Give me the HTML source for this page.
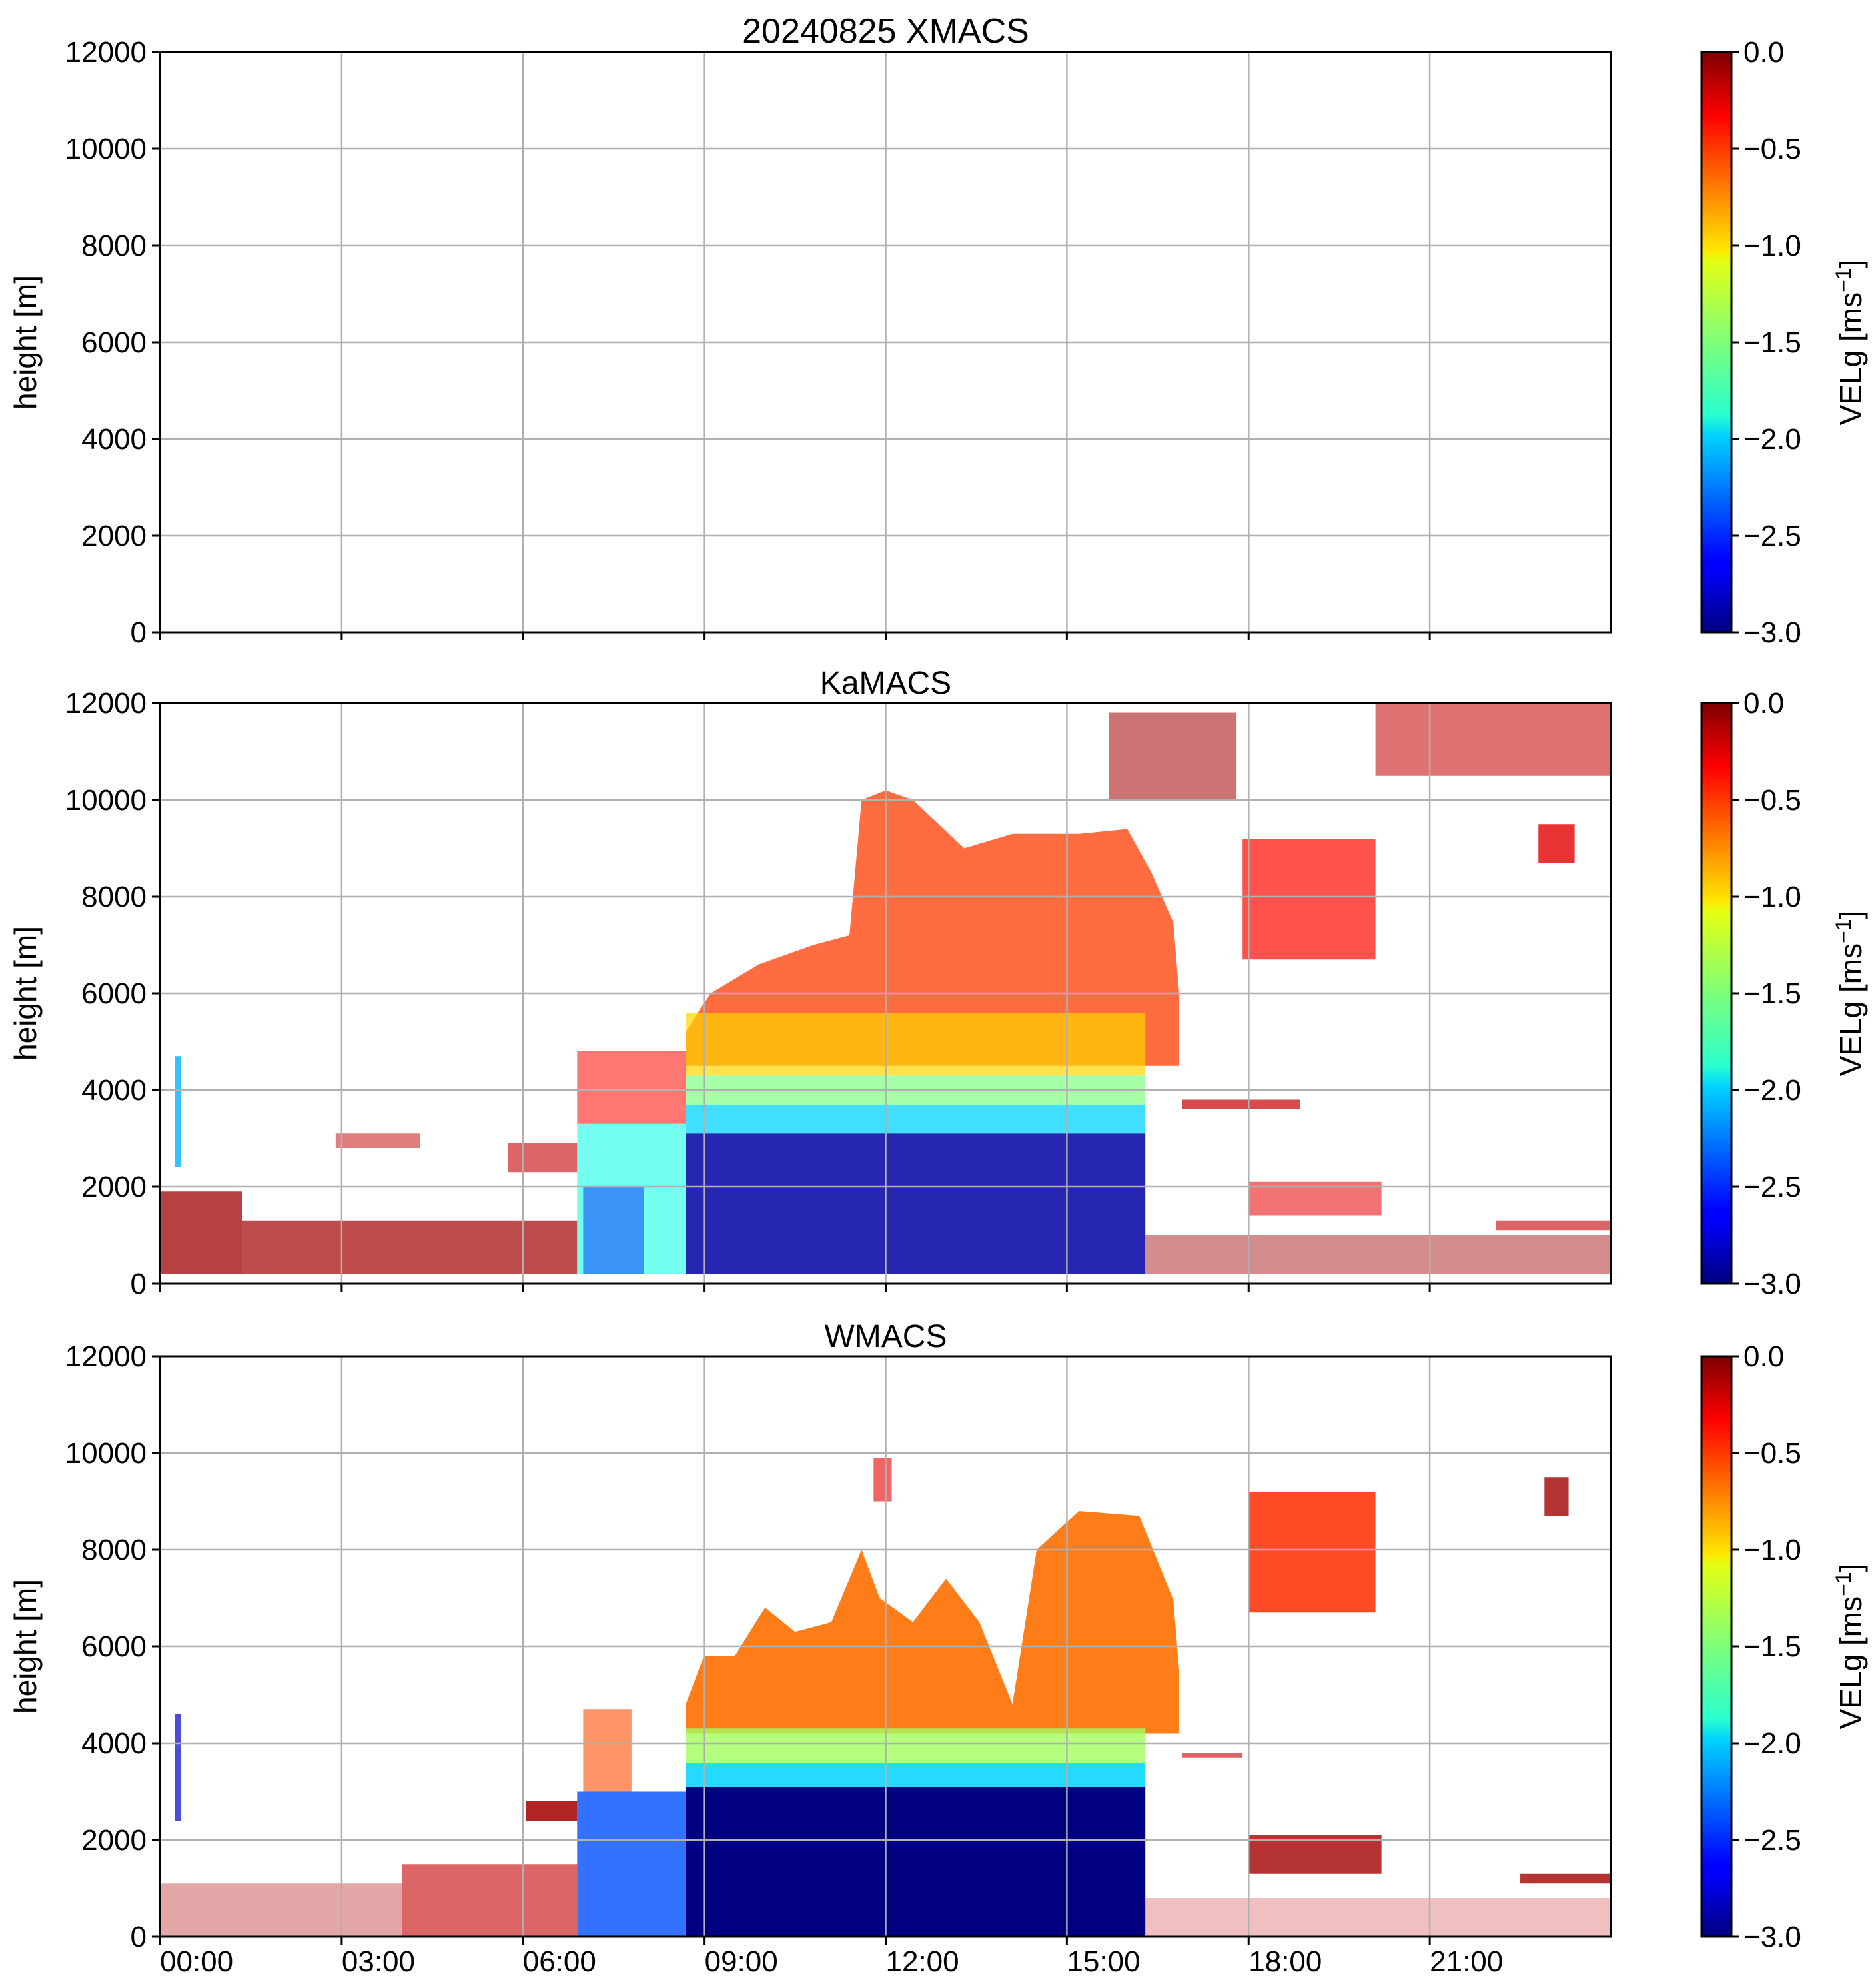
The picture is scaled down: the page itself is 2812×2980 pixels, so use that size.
<!DOCTYPE html>
<html><head><meta charset="utf-8"><style>
html,body{margin:0;padding:0;background:#fff}
svg{display:block;font-family:"Liberation Sans","DejaVu Sans",sans-serif}
</style></head><body>
<svg id="fig" width="2812" height="2980" viewBox="0 0 2812 2980" xmlns="http://www.w3.org/2000/svg">
<defs>
<linearGradient id="jetgrad" x1="0" y1="1" x2="0" y2="0">
<stop offset="0" stop-color="#00007f"/><stop offset="0.11" stop-color="#0000ff"/><stop offset="0.125" stop-color="#0000ff"/>
<stop offset="0.34" stop-color="#00d4ff"/><stop offset="0.375" stop-color="#29ffce"/><stop offset="0.5" stop-color="#7dff7a"/>
<stop offset="0.64" stop-color="#e4ff13"/><stop offset="0.66" stop-color="#ffe600"/><stop offset="0.89" stop-color="#ff0000"/><stop offset="1" stop-color="#7f0000"/>
</linearGradient>
</defs>
<g id="layer"></g>
</svg>
<script>
// ---- data (hours, metres, velocity m/s) ----
const timeTicks = [0,3,6,9,12,15,18,21];
const timeTickLabels = ["00:00","03:00","06:00","09:00","12:00","15:00","18:00","21:00"];
const heightTicks = [0,2000,4000,6000,8000,10000,12000];
const cbTicks = [0,-0.5,-1,-1.5,-2,-2.5,-3];
const cbTickLabels = ["0.0","\u22120.5","\u22121.0","\u22121.5","\u22122.0","\u22122.5","\u22123.0"];
const panelTitles = ["20240825 XMACS","KaMACS","WMACS"];

// KaMACS segments: t0,t1,h0,h1,vel,density
const kaT0 = [0,1.35,0.25,2.9,5.75,6.9,6.9,7.0,8.7,8.7,8.7,8.7,16.3,17.9,15.7,20.1,22.8,16.9,18.0,22.1];
const kaT1 = [1.35,6.9,0.35,4.3,6.9,8.7,8.7,8.0,16.3,16.3,16.3,16.3,24,20.1,17.8,24,23.4,18.85,20.2,24];
const kaH0 = [200,200,2400,2800,2300,200,3300,200,200,3100,3700,4300,200,6700,10000,10500,8700,3600,1400,1100];
const kaH1 = [1900,1300,4700,3100,2900,3300,4800,2000,3100,3700,4300,5600,1000,9200,11800,12000,9500,3800,2100,1300];
const kaV  = [-0.1,-0.1,-2.1,-0.2,-0.2,-1.8,-0.4,-2.5,-2.9,-2.0,-1.5,-1.0,-0.1,-0.4,-0.1,-0.2,-0.3,-0.2,-0.3,-0.2];
const kaD  = [0.75,0.7,0.8,0.5,0.6,0.6,0.55,0.5,0.85,0.75,0.7,0.7,0.45,0.7,0.55,0.55,0.8,0.7,0.55,0.6];
// KaMACS main cloud envelope
const kaEnvT = [8.7,9.1,9.9,10.8,11.4,11.6,12.0,12.45,13.3,14.1,15.2,16.0,16.4,16.75,16.85,16.85,8.7];
const kaEnvH = [5200,6000,6600,7000,7200,10000,10200,10000,9000,9300,9300,9400,8500,7500,6000,4500,4500];
const kaEnvV = -0.55;

// WMACS segments
const wT0 = [0,4,6.05,0.25,6.9,7.0,8.7,8.7,8.7,16.3,18.0,18.0,22.9,22.5,16.9,11.8];
const wT1 = [4,6.9,6.9,0.35,8.7,7.8,16.3,16.3,16.3,24,20.1,20.2,23.3,24,17.9,12.1];
const wH0 = [0,0,2400,2400,0,3000,0,3100,3600,0,6700,1300,8700,1100,3700,9000];
const wH1 = [1100,1500,2800,4600,3000,4700,3100,3600,4300,800,9200,2100,9500,1300,3800,9900];
const wV  = [-0.15,-0.2,-0.1,-2.8,-2.4,-0.6,-3.0,-2.0,-1.4,-0.2,-0.5,-0.1,-0.1,-0.1,-0.2,-0.3];
const wD  = [0.35,0.6,0.85,0.7,0.8,0.6,1,0.85,0.8,0.25,0.85,0.8,0.8,0.8,0.6,0.6];
const wEnvT = [8.7,9.0,9.5,10.0,10.5,11.1,11.6,11.9,12.45,13.0,13.55,14.1,14.5,15.2,16.2,16.75,16.85,16.85,8.7];
const wEnvH = [4800,5800,5800,6800,6300,6500,8000,7000,6500,7400,6500,4800,8000,8800,8700,7000,5500,4200,4200];
const wEnvV = -0.7;

// ---- layout ----
const L = 240, R = 2415, PH = 870;
const tops = [78, 1054, 2033];
const CBL = 2550, CBW = 45;
const NS = "http://www.w3.org/2000/svg";
const layer = document.getElementById('layer');
function xs(t){ return L + t/24*(R-L); }
function ys(p,h){ return tops[p] + PH - h/12000*PH; }
function cbY(p,v){ return tops[p] + (-v)/3*PH; }
function jet(v){
  let x = Math.max(0,Math.min(1,(v+3)/3));
  function c(a){ return Math.max(0,Math.min(1,1.5-Math.abs(4*x-a))); }
  const r=c(3),g=c(2),b=c(1);
  return "rgb("+Math.round(r*255)+","+Math.round(g*255)+","+Math.round(b*255)+")";
}
function el(tag, attrs, parent){
  const e = document.createElementNS(NS, tag);
  for (const k in attrs) e.setAttribute(k, attrs[k]);
  (parent||layer).appendChild(e);
  return e;
}
function txt(s, attrs, parent){ const e = el('text', attrs, parent); e.textContent = s; return e; }

function drawSegs(p, g, T0,T1,H0,H1,V,D){
  for (let i=0;i<T0.length;i++){
    const r = el('rect',{x:xs(T0[i]),y:ys(p,H1[i]),width:xs(T1[i])-xs(T0[i]),height:ys(p,H0[i])-ys(p,H1[i]),fill:jet(V[i]),'fill-opacity':D[i]},g);
    
    
  }
}
function drawEnv(p, g, T, H, v, op){
  let d = '';
  for (let i=0;i<T.length;i++) d += (i?'L':'M')+xs(T[i]).toFixed(1)+','+ys(p,H[i]).toFixed(1);
  const pa = el('path',{d:d+'Z',fill:jet(v),'fill-opacity':op},g);
  
  
}

for (let p=0;p<3;p++){
  const top = tops[p], bot = top+PH;
  const g = el('g',{});
  
  
  const dg = el('g',{},g);
  
  
  if (p===1){ drawEnv(p,dg,kaEnvT,kaEnvH,kaEnvV,0.75); drawSegs(p,dg,kaT0,kaT1,kaH0,kaH1,kaV,kaD); }
  if (p===2){ drawEnv(p,dg,wEnvT,wEnvH,wEnvV,0.9); drawSegs(p,dg,wT0,wT1,wH0,wH1,wV,wD); }
  for (let i=0;i<timeTicks.length;i++){
    const x = xs(timeTicks[i]);
    const gl = el('line',{x1:x,x2:x,y1:top,y2:bot,stroke:'#b0b0b0','stroke-width':2.5},g);
    
    
    el('line',{x1:x,x2:x,y1:bot,y2:bot+12,stroke:'#000','stroke-width':3},g);
    if (p===2){
      const t = txt(timeTickLabels[i],{x:x,y:bot+52,'font-size':44,'text-anchor':'start'},g);
      
      
    }
  }
  for (let i=0;i<heightTicks.length;i++){
    const y = ys(p,heightTicks[i]);
    if (heightTicks[i]>0 && heightTicks[i]<12000){
      const gl = el('line',{x1:L,x2:R,y1:y,y2:y,stroke:'#b0b0b0','stroke-width':2.5},g);
      
      
    }
    el('line',{x1:L-12,x2:L,y1:y,y2:y,stroke:'#000','stroke-width':3},g);
    const t = txt(String(heightTicks[i]),{x:L-20,y:y+15,'font-size':44,'text-anchor':'end'},g);
    
    
  }
  const fr = el('rect',{x:L,y:top,width:R-L,height:PH,fill:'none',stroke:'#000','stroke-width':3},g);
  
  
  const yl = txt('height [m]',{x:0,y:0,'font-size':46,'text-anchor':'middle',transform:'translate(54,'+(top+PH/2)+') rotate(-90)'},g);
  
  
  const tt = txt(panelTitles[p],{x:(L+R)/2,y:top-14,'font-size':p===0?52:48,'text-anchor':'middle'},g);
  
  
  const cb = el('g',{},g);
  
  
  el('rect',{x:CBL,y:top,width:CBW,height:PH,fill:'url(#jetgrad)',stroke:'#000','stroke-width':3},cb);
  for (let i=0;i<cbTicks.length;i++){
    const y = cbY(p,cbTicks[i]);
    el('line',{x1:CBL+CBW,x2:CBL+CBW+12,y1:y,y2:y,stroke:'#000','stroke-width':3},cb);
    const t = txt(cbTickLabels[i],{x:CBL+CBW+18,y:y+15,'font-size':44},cb);
    
    
  }
  const cl = el('text',{x:0,y:0,'font-size':46,'text-anchor':'middle',transform:'translate(2790,'+(top+PH/2)+') rotate(-90)'},cb);
  
  
  cl.innerHTML = 'VELg [ms<tspan dy="-16" font-size="32">\u22121</tspan><tspan dy="16">]</tspan>';
}
</script>
</body></html>
